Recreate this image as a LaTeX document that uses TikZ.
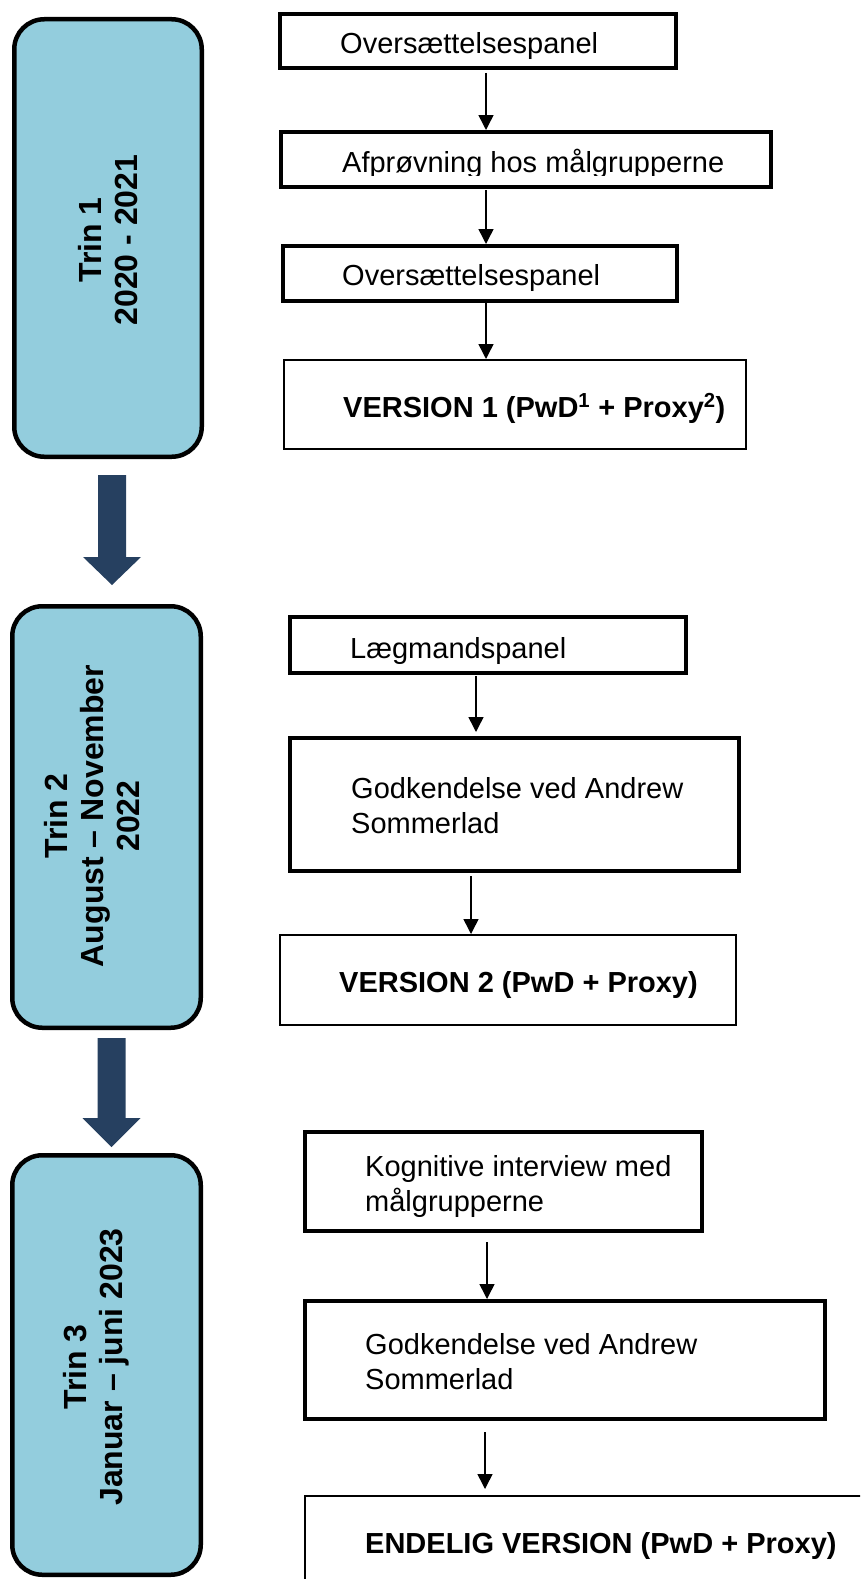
\documentclass[tikz,border=0pt]{standalone}
\usepackage{fontspec}
\setmainfont{Liberation Sans}
\usetikzlibrary{arrows.meta,calc}
\definecolor{trinfill}{RGB}{147,205,221}
\definecolor{navyarrow}{RGB}{38,64,96}
\begin{document}
\begin{tikzpicture}[x=1pt,y=-1pt,
  trin/.style={draw=black, line width=4.5pt, fill=trinfill, rounded corners=30pt, inner sep=0pt},
  thickbox/.style={draw=black, line width=4pt, inner sep=0pt},
  thinbox/.style={draw=black, line width=2pt, inner sep=0pt},
  boxtext/.style={anchor=base west, inner sep=0pt, align=left, font=\fontsize{29}{35}\selectfont},
  boldtext/.style={boxtext, font=\fontsize{29}{35}\selectfont\bfseries},
  trintext/.style={rotate=90, inner sep=0pt, align=center, font=\fontsize{32}{36}\selectfont\bfseries},
  flowarrow/.style={draw=black, line width=1.5pt, -{Triangle[width=15pt,length=15pt]}},
  bigarrow/.style={fill=navyarrow}
]
\useasboundingbox (0,0) rectangle (860,1579);
\clip (0,0) rectangle (860,1579);

% Trin boxes
\node[trin, minimum width=187.5, minimum height=437.5] (T1) at (108,238) {};
\node[trin, minimum width=188.5, minimum height=421.5] (T2) at (106.5,817) {};
\node[trin, minimum width=188.5, minimum height=419.5] (T3) at (106.5,1365) {};
\node[trintext] (T1t) at (108,240) {Trin 1\\2020 - 2021};
\node[trintext] (T2t) at (92.5,816) {Trin 2\\August – November\\2022};
\node[trintext] (T3t) at (96.5,1367) {Trin 3\\Januar – juni 2023};

% big arrows
\coordinate (ba1top) at ($(T1.south)+(4,16)$);
\coordinate (ba1tip) at ($(T2.north)+(5.5,-19)$);
\fill[bigarrow] ($(ba1top)+(-14,0)$) -- ($(ba1top)+(14,0)$) -- ($(ba1tip)+(14,-28)$) -- ($(ba1tip)+(29,-28)$) -- (ba1tip) -- ($(ba1tip)+(-29,-28)$) -- ($(ba1tip)+(-14,-28)$) -- cycle;
\coordinate (ba2top) at ($(T2.south)+(5,8)$);
\coordinate (ba2tip) at ($(T3.north)+(5,-6)$);
\fill[bigarrow] ($(ba2top)+(-14,0)$) -- ($(ba2top)+(14,0)$) -- ($(ba2tip)+(14,-29)$) -- ($(ba2tip)+(29,-29)$) -- (ba2tip) -- ($(ba2tip)+(-29,-29)$) -- ($(ba2tip)+(-14,-29)$) -- cycle;

% right boxes
\node[thickbox, minimum width=396, minimum height=54] (A) at (478,41) {};
\node[thickbox, minimum width=490, minimum height=55] (B) at (526,159.5) {};
\node[thickbox, minimum width=394, minimum height=55] (C) at (480,273.5) {};
\node[thinbox, minimum width=462, minimum height=89] (D) at (515,404.5) {};
\node[thickbox, minimum width=396, minimum height=56] (E) at (488,645) {};
\node[thickbox, minimum width=449, minimum height=133] (F) at (514.5,804.5) {};
\node[thinbox, minimum width=456, minimum height=90] (G) at (508,980) {};
\node[thickbox, minimum width=397, minimum height=99] (H) at (503.5,1181.5) {};
\node[thickbox, minimum width=520, minimum height=118] (I) at (565,1360) {};
\node[thinbox, minimum width=595, minimum height=124] (J) at (602.5,1558) {};

% texts
\node[boxtext] (At) at (340,53) {Oversættelsespanel};
\begin{scope}
\clip (275,125) rectangle (780,175);
\node[boxtext] (Bt) at (342,172) {Afprøvning hos målgrupperne};
\end{scope}
\node[boxtext] (Ct) at (342,285) {Oversættelsespanel};
\node[boldtext] (Dt) at (343,417) {VERSION 1 (PwD\textsuperscript{1} + Proxy\textsuperscript{2})};
\node[boxtext] (Et) at (350,658) {Lægmandspanel};
\node[boxtext] (Ft) at (351,833) {Godkendelse ved Andrew\\Sommerlad};
\node[boldtext] (Gt) at (339,992) {VERSION 2 (PwD + Proxy)};
\node[boxtext] (Ht) at (365,1211) {Kognitive interview med\\målgrupperne};
\node[boxtext] (It) at (365,1389) {Godkendelse ved Andrew\\Sommerlad};
\node[boldtext] (Jt) at (365,1553) {ENDELIG VERSION (PwD + Proxy)};

% flow arrows
\coordinate (xab) at (486,0);
\coordinate (xef) at (476,0);
\coordinate (xfg) at (471,0);
\coordinate (xhi) at (487,0);
\coordinate (xij) at (485,0);
\draw[flowarrow, shorten <=3pt] (A.south -| xab) -- (B.north -| xab);
\draw[flowarrow, shorten <=1pt] (B.south -| xab) -- (C.north -| xab);
\draw[flowarrow] (C.south -| xab) -- (D.north -| xab);
\draw[flowarrow, shorten <=1pt, shorten >=4pt] (E.south -| xef) -- (F.north -| xef);
\draw[flowarrow, shorten <=3pt] (F.south -| xfg) -- (G.north -| xfg);
\draw[flowarrow, shorten <=9pt] (H.south -| xhi) -- (I.north -| xhi);
\draw[flowarrow, shorten <=11pt, shorten >=6pt] (I.south -| xij) -- (J.north -| xij);
\end{tikzpicture}
\end{document}
